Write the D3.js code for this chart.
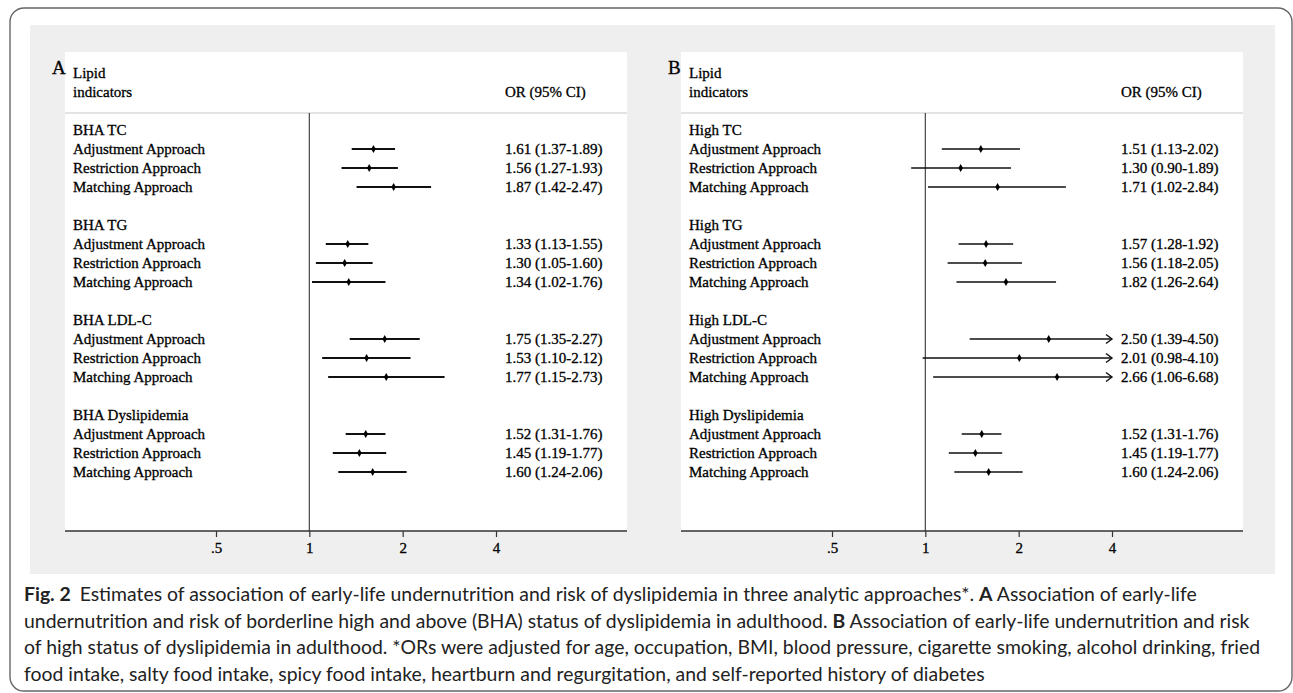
<!DOCTYPE html>
<html>
<head>
<meta charset="utf-8">
<script src="https://cdn.jsdelivr.net/npm/d3@7"></script>
<style>
  body { margin: 0; background: #fff; }
  svg text { font-family: "Liberation Serif", "Times New Roman", serif; fill: #000; }
  .panel text { stroke: #000; stroke-width: 0.3; }
  .caption text { font-family: "Lato", "Open Sans", sans-serif; fill: #222; }
</style>
</head>
<body>
<svg id="chart" width="1293" height="693"></svg>
<script>
// ---- data ----
const approaches = ['Adjustment Approach', 'Restriction Approach', 'Matching Approach']
const groupsA = ['BHA TC', 'BHA TG', 'BHA LDL-C', 'BHA Dyslipidemia']
const groupsB = ['High TC', 'High TG', 'High LDL-C', 'High Dyslipidemia']

const orA = [1.61, 1.56, 1.87, 1.33, 1.30, 1.34, 1.75, 1.53, 1.77, 1.52, 1.45, 1.60]
const lowA = [1.37, 1.27, 1.42, 1.13, 1.05, 1.02, 1.35, 1.10, 1.15, 1.31, 1.19, 1.24]
const highA = [1.89, 1.93, 2.47, 1.55, 1.60, 1.76, 2.27, 2.12, 2.73, 1.76, 1.77, 2.06]

const orB = [1.51, 1.30, 1.71, 1.57, 1.56, 1.82, 2.50, 2.01, 2.66, 1.52, 1.45, 1.60]
const lowB = [1.13, 0.90, 1.02, 1.28, 1.18, 1.26, 1.39, 0.98, 1.06, 1.31, 1.19, 1.24]
const highB = [2.02, 1.89, 2.84, 1.92, 2.05, 2.64, 4.50, 4.10, 6.68, 1.76, 1.77, 2.06]

const tickValues = [0.5, 1, 2, 4]
const tickLabels = ['.5', '1', '2', '4']

const captionLines = [
    [['Fig. 2', true], [' Estimates of association of early-life undernutrition and risk of dyslipidemia in three analytic approaches*. ', false], ['A', true], [' Association of early-life', false]],
    [['undernutrition and risk of borderline high and above (BHA) status of dyslipidemia in adulthood. ', false], ['B', true], [' Association of early-life undernutrition and risk', false]],
    [['of high status of dyslipidemia in adulthood. *ORs were adjusted for age, occupation, BMI, blood pressure, cigarette smoking, alcohol drinking, fried', false]],
    [['food intake, salty food intake, spicy food intake, heartburn and regurgitation, and self-reported history of diabetes', false]]
]

const fmt = d3.format('.2f')

const svg = d3.select('#chart')

// outer frame and grey plot region
svg.append('rect')
    .attr('x', 10).attr('y', 8).attr('width', 1282).attr('height', 683)
    .attr('rx', 14).attr('fill', 'none').attr('stroke', '#666').attr('stroke-width', 1.4)
svg.append('rect')
    .attr('x', 30).attr('y', 25).attr('width', 1245).attr('height', 549)
    .attr('fill', '#efefef')

const panelW = 562
const panelTop = 52
const axisY = 531
const rowStep = 19

const drawPanel = (x0, letter, groups, or, low, high, lineW) => {
    const g = svg.append('g').attr('class', 'panel').attr('transform', `translate(${ x0 },0)`)
    g.append('rect')
        .attr('x', 0).attr('y', panelTop).attr('width', panelW).attr('height', axisY - panelTop)
        .attr('fill', '#fff')

    g.append('text').attr('x', -13).attr('y', 74).attr('font-size', 19).text(letter)
    g.append('text').attr('x', 8).attr('y', 78).attr('font-size', 15).text('Lipid')
    g.append('text').attr('x', 8).attr('y', 97).attr('font-size', 15).text('indicators')
    g.append('text').attr('x', 440).attr('y', 97).attr('font-size', 15).text('OR (95% CI)')

    g.append('line')
        .attr('x1', 0).attr('x2', panelW).attr('y1', 113).attr('y2', 113)
        .attr('stroke', '#c8c8c8').attr('stroke-width', 1.2)

    const x = d3.scaleLog().base(2).domain([0.5, 4]).range([151, 431])
    const xc = x.copy().clamp(true)

    g.append('line')
        .attr('x1', x(1)).attr('x2', x(1)).attr('y1', 113).attr('y2', axisY)
        .attr('stroke', '#444').attr('stroke-width', 1.2)

    // rows: group title then three approaches, blank row between groups
    const rows = []
    groups.forEach((name, gi) => {
        rows.push({ k: gi * 5, label: name })
        approaches.forEach((a, ai) => {
            const i = gi * 3 + ai
            rows.push({ k: gi * 5 + ai + 1, label: a, or: or[i], low: low[i], high: high[i] })
        })
    })
    const y = k => 130 + rowStep * k

    g.selectAll('text.lab').data(rows).join('text')
        .attr('class', 'lab')
        .attr('x', 8).attr('y', d => y(d.k) + 5).attr('font-size', 15)
        .text(d => d.label)

    const est = rows.filter(d => d.or !== undefined)

    g.selectAll('line.ci').data(est).join('line')
        .attr('class', 'ci')
        .attr('x1', d => xc(d.low)).attr('x2', d => xc(d.high))
        .attr('y1', d => y(d.k)).attr('y2', d => y(d.k))
        .attr('stroke', '#111').attr('stroke-width', lineW)

    g.selectAll('path.arrow').data(est.filter(d => d.high > 4)).join('path')
        .attr('class', 'arrow')
        .attr('d', d => `M${ x(4) - 6 },${ y(d.k) - 4.5 }L${ x(4) },${ y(d.k) }L${ x(4) - 6 },${ y(d.k) + 4.5 }`)
        .attr('fill', 'none').attr('stroke', '#111').attr('stroke-width', 1.4)

    g.selectAll('path.pt').data(est).join('path')
        .attr('class', 'pt')
        .attr('transform', d => `translate(${ x(d.or) },${ y(d.k) })`)
        .attr('d', d3.symbol(d3.symbolDiamond).size(18))
        .attr('fill', '#000')

    g.selectAll('text.val').data(est).join('text')
        .attr('class', 'val')
        .attr('x', 440).attr('y', d => y(d.k) + 5).attr('font-size', 15)
        .text(d => `${ fmt(d.or) } (${ fmt(d.low) }-${ fmt(d.high) })`)

    // x axis
    g.append('line')
        .attr('x1', 0).attr('x2', panelW).attr('y1', axisY).attr('y2', axisY)
        .attr('stroke', '#333').attr('stroke-width', 1.3)
    const axis = g.append('g')
        .attr('transform', `translate(0,${ axisY })`)
        .call(d3.axisBottom(x).tickValues(tickValues).tickSize(6).tickSizeOuter(0).tickPadding(5)
            .tickFormat((d, i) => tickLabels[i]))
    axis.select('.domain').remove()
    axis.selectAll('.tick line').attr('stroke', '#333').attr('stroke-width', 1.2)
    axis.selectAll('.tick text')
        .attr('font-family', '"Liberation Serif", serif').attr('font-size', 15).attr('fill', '#000')
}

drawPanel(65, 'A', groupsA, orA, lowA, highA, 2.2)
drawPanel(681, 'B', groupsB, orB, lowB, highB, 1.6)

// caption
const cap = svg.append('g').attr('class', 'caption')
captionLines.forEach((parts, li) => {
    const t = cap.append('text')
        .attr('x', 24).attr('y', 601 + li * 26.7)
        .attr('font-size', 19.4)
        .attr('xml:space', 'preserve')
    parts.forEach(([s, bold], pi) => {
        t.append('tspan')
            .attr('font-weight', bold ? 700 : 400)
            .attr('dx', li === 0 && pi === 1 ? 4 : null)
            .text(s)
    })
})
</script>
</body>
</html>
